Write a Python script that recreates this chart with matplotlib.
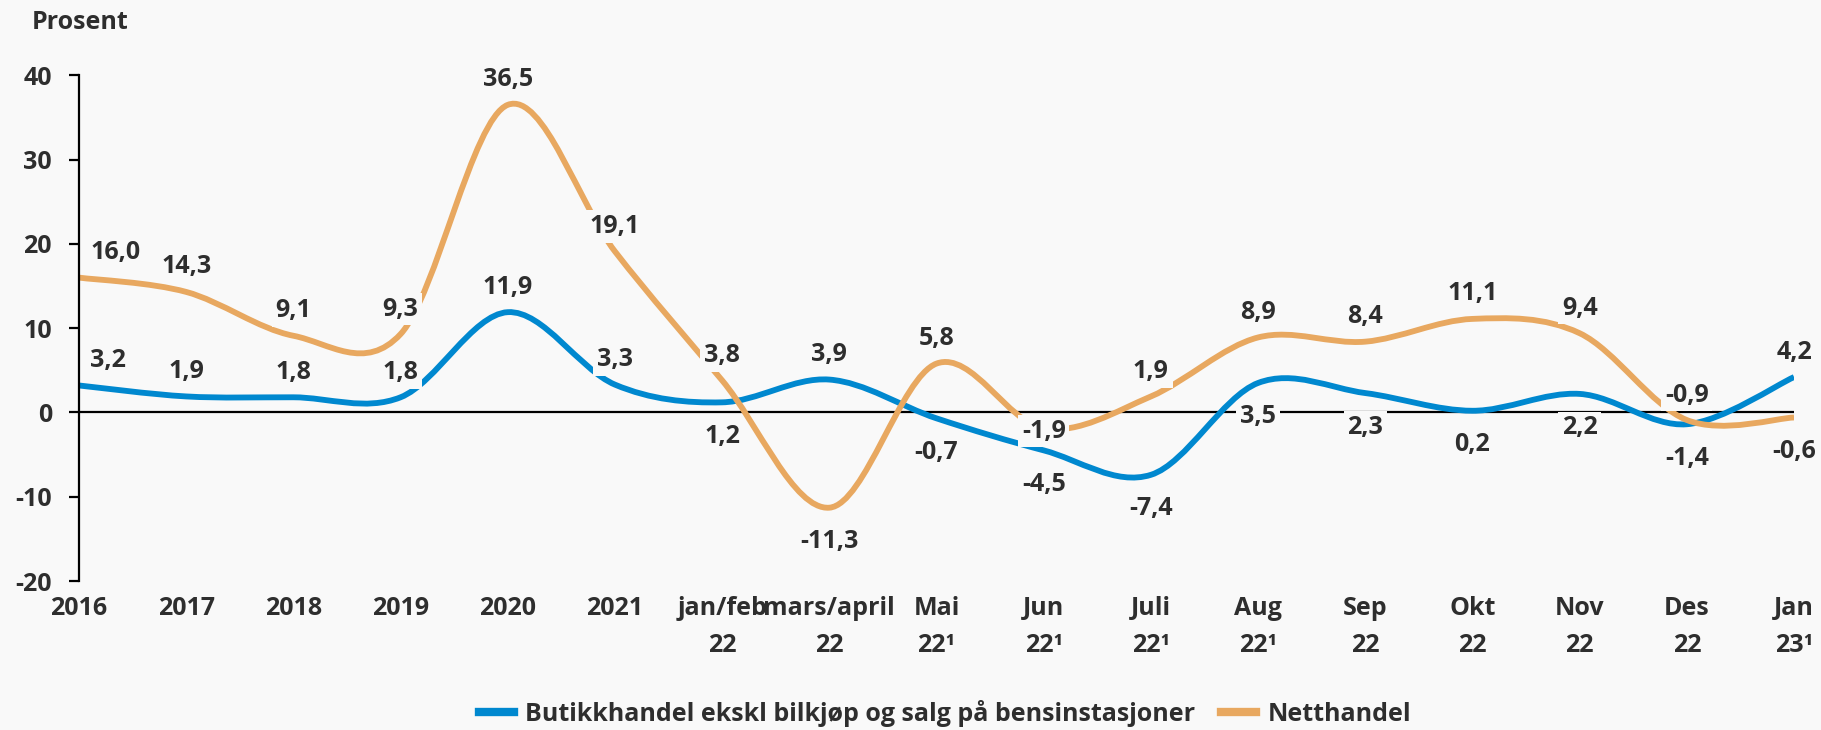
import matplotlib
matplotlib.use('Agg')
import matplotlib.pyplot as plt
from matplotlib.path import Path
from matplotlib.patches import PathPatch
from matplotlib.lines import Line2D
import numpy as np

plt.rcParams['font.family'] = ['Open Sans', 'DejaVu Sans']
plt.rcParams['font.weight'] = 'bold'
plt.rcParams['axes.unicode_minus'] = False

# ---- data ----
categories = ['2016', '2017', '2018', '2019', '2020', '2021',
              'jan/feb\n22', 'mars/april\n22', 'Mai\n22¹', 'Jun\n22¹',
              'Juli\n22¹', 'Aug\n22¹', 'Sep\n22', 'Okt\n22', 'Nov\n22',
              'Des\n22', 'Jan\n23¹']
butikk = [3.2, 1.9, 1.8, 1.8, 11.9, 3.3, 1.2, 3.9, -0.7, -4.5, -7.4,
          3.5, 2.3, 0.2, 2.2, -1.4, 4.2]
netthandel = [16.0, 14.3, 9.1, 9.3, 36.5, 19.1, 3.8, -11.3, 5.8, -1.9,
              1.9, 8.9, 8.4, 11.1, 9.4, -0.9, -0.6]
yticks = [-20, -10, 0, 10, 20, 30, 40]

# label placement: a = above, b = below, c = on the point
butikk_pos = list('aaaaaababbbbbbbba')
netthandel_pos = list('aaaaaaabacaaaaaab')

BG = '#f9f9f9'
TXT = '#2e2e2e'
BLUE = '#0088cf'
ORANGE = '#e8a860'
FS = 18


def smooth_path(x, y):
    # Catmull-Rom style smoothing (like Excel "smoothed line")
    x = np.asarray(x, float)
    y = np.asarray(y, float)
    n = len(x)
    verts = [(x[0], y[0])]
    codes = [Path.MOVETO]
    for i in range(n - 1):
        p0 = max(i - 1, 0)
        p3 = min(i + 2, n - 1)
        c1 = (x[i] + (x[i + 1] - x[p0]) / 6, y[i] + (y[i + 1] - y[p0]) / 6)
        c2 = (x[i + 1] - (x[p3] - x[i]) / 6, y[i + 1] - (y[p3] - y[i]) / 6)
        verts += [c1, c2, (x[i + 1], y[i + 1])]
        codes += [Path.CURVE4] * 3
    return Path(verts, codes)


fig = plt.figure(figsize=(18.21, 7.30), dpi=100, facecolor=BG)
ax = fig.add_axes([0.0434, 0.2041, 0.9418, 0.6927])
ax.set_facecolor(BG)

xs = np.arange(len(categories))
ax.axhline(0, color='black', lw=1.6, zorder=1)
for vals, col in [(butikk, BLUE), (netthandel, ORANGE)]:
    ax.add_patch(PathPatch(smooth_path(xs, vals), fc='none', ec=col,
                           lw=4.2, capstyle='butt', zorder=2))

offsets = {'a': 18, 'b': -24.5, 'c': -2}
for vals, pos in [(butikk, butikk_pos), (netthandel, netthandel_pos)]:
    for i, (v, p) in enumerate(zip(vals, pos)):
        dx, ha = (8, 'left') if i == 0 else (0, 'center')
        ax.annotate(f'{v:.1f}'.replace('.', ','), (i, v),
                    xytext=(dx, offsets[p]), textcoords='offset points',
                    ha=ha, va='center', fontsize=FS, color=TXT,
                    fontweight='bold', zorder=5,
                    bbox=dict(boxstyle='square,pad=0.15', fc=BG, ec='none'))

ax.set_xlim(0, len(categories) - 1)
ax.set_ylim(-20, 40)
ax.set_yticks(yticks)
ax.set_xticks(xs)
ax.set_xticklabels(categories, linespacing=1.62)
for s in ['top', 'right', 'bottom']:
    ax.spines[s].set_visible(False)
ax.spines['left'].set_linewidth(1.6)
ax.tick_params(axis='y', length=7, width=1.6, pad=12.5, labelsize=FS,
               labelcolor=TXT)
ax.tick_params(axis='x', length=0, pad=11, labelsize=FS, labelcolor=TXT)

fig.text(0.0176, 0.9695, 'Prosent', fontsize=FS, color=TXT,
         fontweight='bold', va='center', ha='left')

handles = [Line2D([], [], color=BLUE, lw=6),
           Line2D([], [], color=ORANGE, lw=6)]
fig.legend(handles, ['Butikkhandel ekskl bilkjøp og salg på bensinstasjoner',
                     'Netthandel'],
           loc='center', bbox_to_anchor=(0.519, 0.023), ncol=2, frameon=False,
           fontsize=FS, labelcolor=TXT, handlelength=1.4, handletextpad=0.45,
           columnspacing=1.05)

fig.savefig('out.png', dpi=100, facecolor=BG)
